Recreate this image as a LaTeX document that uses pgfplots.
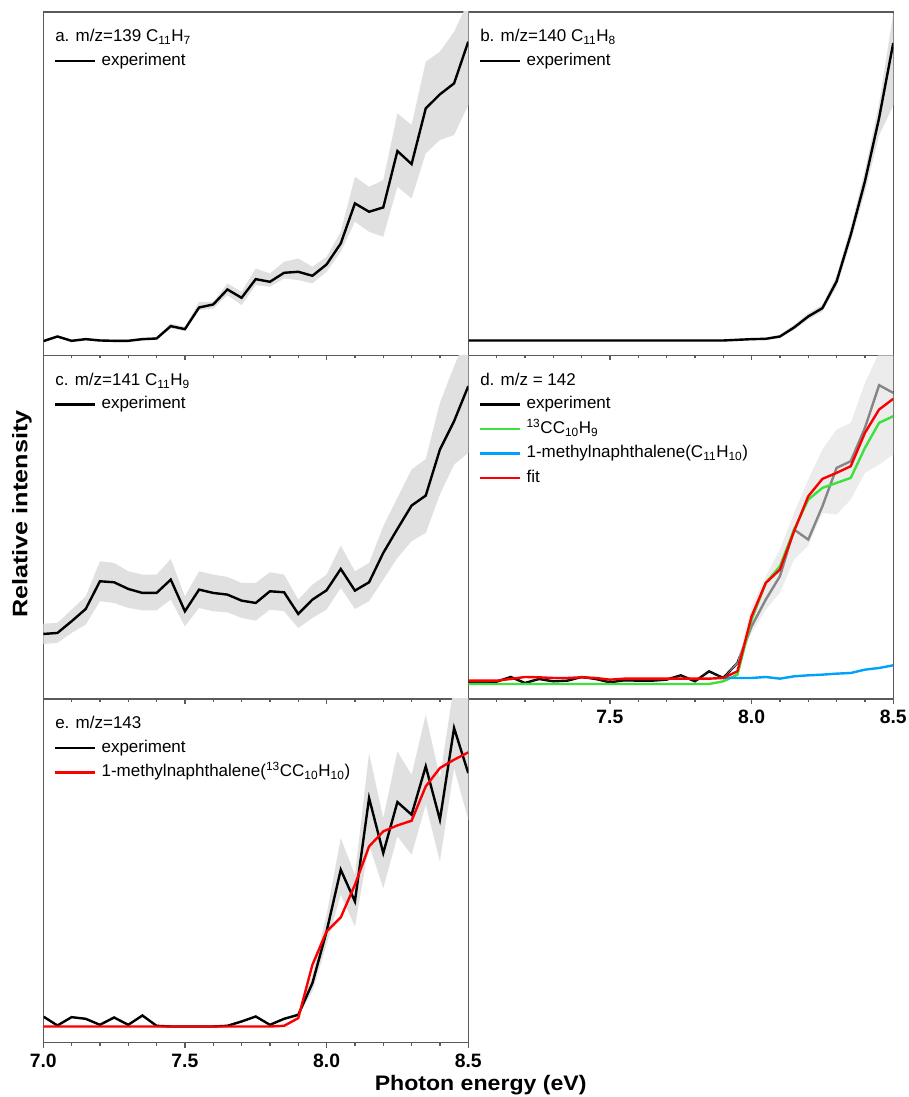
\documentclass[border=0pt]{standalone}
\usepackage{fontspec}
\setmainfont{Liberation Sans}
\usepackage{graphicx}
\usepackage{pgfplots}
\pgfplotsset{compat=1.18}
\usepackage{pgfplotstable}
\usepgfplotslibrary{fillbetween}

\definecolor{bandgray}{RGB}{224,224,224}
\definecolor{lgreen}{RGB}{60,225,60}
\definecolor{lblue}{RGB}{0,160,255}
\definecolor{lred}{RGB}{250,0,0}
\definecolor{framegray}{RGB}{90,90,90}

\pgfplotstableread{
x v lo hi
7.00 43 39 47
7.05 57 53 61
7.10 44 40 48
7.15 49 45 53
7.20 45 41 49
7.25 44 40 48
7.30 44 40 48
7.35 49 45 53
7.40 51 47 55
7.45 88 81 96
7.50 79 73 86
7.55 144 136 161
7.60 153 141 161
7.65 198 181 216
7.70 173 151 191
7.75 229 211 261
7.80 221 206 246
7.85 248 231 281
7.90 251 226 291
7.95 239 216 266
8.00 273 251 296
8.05 336 311 371
8.10 456 401 536
8.15 431 371 506
8.20 444 356 526
8.25 613 506 726
8.30 574 471 691
8.35 741 606 881
8.40 783 646 911
8.45 816 661 971
8.50 941 751 1061
}\tA

\pgfplotstableread{
x v lo hi
7.00 45 42 48
7.05 45 42 48
7.10 45 42 48
7.15 45 42 48
7.20 45 42 48
7.25 45 42 48
7.30 45 42 48
7.35 45 42 48
7.40 45 42 48
7.45 45 42 48
7.50 45 42 48
7.55 45 42 48
7.60 45 42 48
7.65 45 42 48
7.70 45 42 48
7.75 45 42 48
7.80 45 42 48
7.85 45 42 48
7.90 45 42 48
7.95 47 44 50
8.00 49 46 52
8.05 50 47 53
8.10 57 52 62
8.15 84 77 92
8.20 117 108 127
8.25 142 132 152
8.30 222 205 240
8.35 362 340 385
8.40 522 490 555
8.45 712 660 755
8.50 937 750 1025
}\tB

\pgfplotstableread{
x v lo hi
7.00 195 165 226
7.05 198 168 228
7.10 233 198 268
7.15 270 223 308
7.20 353 293 413
7.25 350 288 408
7.30 330 273 383
7.35 318 266 373
7.40 318 266 373
7.45 358 298 420
7.50 263 218 308
7.55 328 273 383
7.60 318 263 373
7.65 313 260 366
7.70 295 243 348
7.75 288 235 348
7.80 323 268 380
7.85 320 263 373
7.90 255 213 298
7.95 298 243 343
8.00 326 268 373
8.05 390 333 460
8.10 325 270 383
8.15 350 293 408
8.20 438 358 518
8.25 510 423 603
8.30 580 473 688
8.35 610 498 720
8.40 748 613 888
8.45 833 703 998
8.50 938 738 1098
}\tC

\pgfplotstableread{
x v lo hi g r
7.00 50 50 50 45 55
7.05 50 50 50 45 55
7.10 52 52 52 45 55
7.15 66 66 66 45 60
7.20 48 48 48 45 66
7.25 60 60 60 45 65
7.30 53 53 53 45 63
7.35 55 55 55 45 63
7.40 66 66 66 45 65
7.45 60 60 60 45 63
7.50 50 50 50 45 58
7.55 56 56 56 45 61
7.60 55 55 55 45 61
7.65 55 55 55 45 61
7.70 58 58 58 45 61
7.75 71 71 71 45 61
7.80 53 53 53 45 61
7.85 83 83 83 45 61
7.90 63 63 63 53 63
7.95 108 104 112 73 83
8.00 218 198 278 238 248
8.05 298 268 368 348 348
8.10 368 318 448 398 388
8.15 508 418 558 508 503
8.20 478 460 658 598 608
8.25 578 558 748 633 660
8.30 693 553 808 648 678
8.35 713 598 828 663 698
8.40 813 678 948 753 798
8.45 941 703 1038 828 868
8.50 918 733 1058 848 900
}\tD

\pgfplotstableread{
x v lo hi r
7.00 78 75 81 48
7.05 51 48 54 48
7.10 76 73 79 48
7.15 71 68 74 48
7.20 53 50 56 48
7.25 75 72 78 48
7.30 53 50 56 48
7.35 81 78 84 48
7.40 50 47 53 48
7.45 48 45 51 48
7.50 48 45 51 48
7.55 48 45 51 48
7.60 48 45 51 48
7.65 50 47 53 48
7.70 63 60 66 48
7.75 78 75 81 48
7.80 53 50 56 48
7.85 71 68 74 50
7.90 83 78 88 73
7.95 178 153 203 233
8.00 333 293 383 333
8.05 518 443 613 375
8.10 423 348 503 473
8.15 733 593 868 588
8.20 568 463 673 633
8.25 721 618 873 651
8.30 683 563 803 665
8.35 828 713 983 768
8.40 668 543 793 823
8.45 943 823 1073 848
8.50 808 668 1033 870
}\tE

\newcommand{\legfont}{\fontsize{12.75}{15}\selectfont}
\newcommand{\tickfont}{\bfseries\fontsize{14.5}{16}\selectfont}

\pgfplotsset{
  panel/.style={
    scale only axis, width=318.75pt, height=257.625pt, anchor=south west,
    xmin=7, xmax=8.5, ymin=0, ymax=1030,
    ytick=\empty, xtick={7,7.5,8,8.5}, minor x tick num=4,
    tick align=outside, xtick pos=left,
    major tick length=3.75pt, minor tick length=2.25pt,
    axis line style={framegray, line width=1pt},
    tick style={framegray, line width=1pt},
    xticklabels={},
    xticklabel style={font=\tickfont, inner sep=0pt},
    xticklabel shift=4.5pt,
    legend cell align=left,
    legend style={at={(0,1)}, anchor=north west, xshift=8pt, yshift=-27.35pt,
      draw=none, fill=none, inner sep=0pt, row sep=0pt, font=\legfont,
      nodes={inner sep=0pt, text height=12.4pt, text depth=6pt}},
    legend image code/.code={\draw[##1, line width=1.8pt] (0pt,0pt) -- (30pt,0pt); \path (33.75pt,0pt);},
  },
  dline/.style={line width=1.8pt},
}
\tikzset{ptitle/.style={anchor=base west, inner sep=0pt, xshift=8.8pt, yshift=-22.5pt, font=\legfont}}

\begin{document}
\begin{tikzpicture}

% panel a
\begin{axis}[panel, at={(32.4375pt,556.125pt)}]
\addplot[name path=hi, draw=none, forget plot] table[x=x, y=hi]{\tA};
\addplot[name path=lo, draw=none, forget plot] table[x=x, y=lo]{\tA};
\addplot[fill=bandgray, draw=none, forget plot] fill between[of=hi and lo];
\addplot[black, dline] table[x=x, y=v]{\tA};
\addlegendentry{experiment}
\node[ptitle] at (axis description cs:0,1) {a. m/z=139 C\textsubscript{11}H\textsubscript{7}};
\end{axis}

% panel b
\begin{axis}[panel, at={(351.1875pt,556.125pt)}]
\addplot[name path=hi, draw=none, forget plot] table[x=x, y=hi]{\tB};
\addplot[name path=lo, draw=none, forget plot] table[x=x, y=lo]{\tB};
\addplot[fill=bandgray, draw=none, forget plot] fill between[of=hi and lo];
\addplot[black, dline] table[x=x, y=v]{\tB};
\addlegendentry{experiment}
\node[ptitle] at (axis description cs:0,1) {b. m/z=140 C\textsubscript{11}H\textsubscript{8}};
\end{axis}

% panel c
\begin{axis}[panel, at={(32.4375pt,298.5pt)}]
\addplot[name path=hi, draw=none, forget plot] table[x=x, y=hi]{\tC};
\addplot[name path=lo, draw=none, forget plot] table[x=x, y=lo]{\tC};
\addplot[fill=bandgray, draw=none, forget plot] fill between[of=hi and lo];
\addplot[black, dline] table[x=x, y=v]{\tC};
\addlegendentry{experiment}
\node[ptitle] at (axis description cs:0,1) {c. m/z=141 C\textsubscript{11}H\textsubscript{9}};
\end{axis}

% panel d
\begin{axis}[panel, at={(351.1875pt,298.5pt)}, xticklabels={,7.5,8.0,8.5}]
\addplot[name path=hi, draw=none, forget plot] table[x=x, y=hi]{\tD};
\addplot[name path=lo, draw=none, forget plot] table[x=x, y=lo]{\tD};
\addplot[black, dline, on layer=pre main] table[x=x, y=v]{\tD};
\addlegendentry{experiment}
\addplot[fill=bandgray, draw=none, fill opacity=0.6, forget plot] fill between[of=hi and lo];
\addplot[lgreen, dline] table[x=x, y=g]{\tD};
\addlegendentry{\textsuperscript{13}CC\textsubscript{10}H\textsubscript{9}}
\addplot[lblue, dline] coordinates {
(7.90,63) (7.95,63) (8.00,63) (8.05,66) (8.10,61) (8.15,68) (8.20,71)
(8.25,73) (8.30,76) (8.35,78) (8.40,88) (8.45,93) (8.50,101)};
\addlegendentry{1-methylnaphthalene(C\textsubscript{11}H\textsubscript{10})}
\addplot[lred, dline] table[x=x, y=r]{\tD};
\addlegendentry{fit}
\node[ptitle] at (axis description cs:0,1) {d. m/z = 142};
\end{axis}

% panel e
\begin{axis}[panel, at={(32.4375pt,40.875pt)}, xticklabels={7.0,7.5,8.0,8.5}]
\addplot[name path=hi, draw=none, forget plot] table[x=x, y=hi]{\tE};
\addplot[name path=lo, draw=none, forget plot] table[x=x, y=lo]{\tE};
\addplot[fill=bandgray, draw=none, forget plot] fill between[of=hi and lo];
\addplot[black, dline] table[x=x, y=v]{\tE};
\addlegendentry{experiment}
\addplot[lred, dline] table[x=x, y=r]{\tE};
\addlegendentry{1-methylnaphthalene(\textsuperscript{13}CC\textsubscript{10}H\textsubscript{10})}
\node[ptitle] at (axis description cs:0,1) {e. m/z=143};
\end{axis}

\node[rotate=90, anchor=base, inner sep=0pt, font=\bfseries\fontsize{15.75}{18}\selectfont]
  at (20.5pt,437.25pt) {\scalebox{1.2}[1]{Relative intensity}};
\node[anchor=base, inner sep=0pt, font=\bfseries\fontsize{15.75}{18}\selectfont]
  at (360.5pt,5.25pt) {\scalebox{1.1}[1]{Photon energy (eV)}};

\pgfresetboundingbox
\useasboundingbox (0,0) rectangle (681.75pt,822.75pt);
\end{tikzpicture}
\end{document}
